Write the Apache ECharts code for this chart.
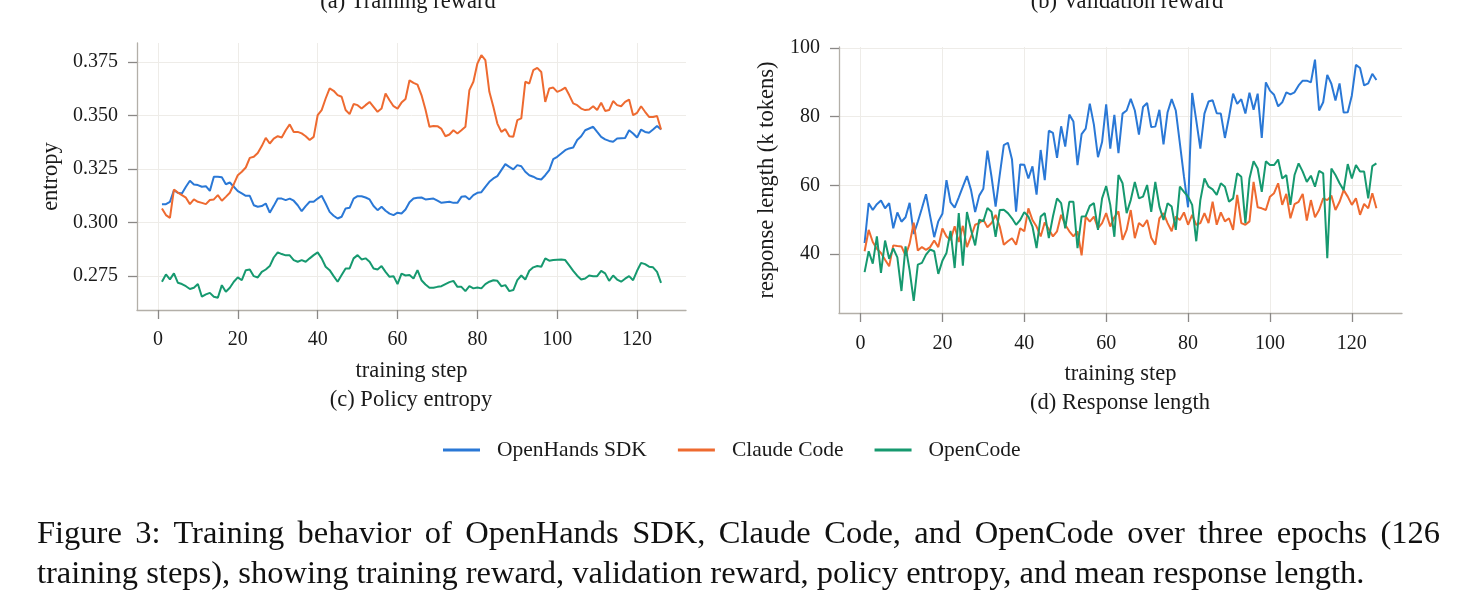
<!DOCTYPE html>
<html>
<head>
<meta charset="utf-8">
<script src="https://cdn.jsdelivr.net/npm/echarts@6/dist/echarts.min.js"></script>
<style>
  html, body { margin: 0; padding: 0; background: #fff; }
  #chart { width: 1476px; height: 606px; }
  .cap { position: absolute; left: 37px; width: 1403px; font-family: 'Liberation Serif', serif; font-size: 32.5px; color: #111; white-space: nowrap; }
  #cap1 { top: 514px; text-align: justify; text-align-last: justify; white-space: normal; }
  #cap2 { top: 554px; }
</style>
</head>
<body>
<div id="chart"></div>
<div class="cap" id="cap1">Figure 3: Training behavior of OpenHands SDK, Claude Code, and OpenCode over three epochs (126</div>
<div class="cap" id="cap2">training steps), showing training reward, validation reward, policy entropy, and mean response length.</div>
<script>
// training steps 1..126
const steps = Array.from({ length: 126 }, (_, i) => i + 1);

// (c) policy entropy
const entropyOpenHands = [
  0.3086, 0.3086, 0.3097, 0.3151, 0.3139, 0.3136, 0.3167, 0.3195, 0.3178, 0.3175,
  0.3167, 0.3170, 0.3148, 0.3214, 0.3214, 0.3211, 0.3179, 0.3187, 0.3167, 0.3147,
  0.3136, 0.3125, 0.3125, 0.3081, 0.3074, 0.3077, 0.3089, 0.3046, 0.3078, 0.3112,
  0.3112, 0.3105, 0.3112, 0.3102, 0.3081, 0.3053, 0.3077, 0.3097, 0.3097, 0.3112,
  0.3125, 0.3089, 0.3050, 0.3032, 0.3019, 0.3027, 0.3066, 0.3069, 0.3112, 0.3123,
  0.3123, 0.3117, 0.3108, 0.3077, 0.3058, 0.3074, 0.3055, 0.3042, 0.3035, 0.3046,
  0.3042, 0.3061, 0.3095, 0.3112, 0.3116, 0.3117, 0.3108, 0.3110, 0.3112, 0.3102,
  0.3092, 0.3095, 0.3097, 0.3092, 0.3092, 0.3120, 0.3123, 0.3108, 0.3128, 0.3139,
  0.3142, 0.3167, 0.3190, 0.3206, 0.3217, 0.3245, 0.3273, 0.3260, 0.3248, 0.3268,
  0.3263, 0.3237, 0.3221, 0.3214, 0.3204, 0.3201, 0.3221, 0.3245, 0.3296, 0.3307,
  0.3322, 0.3338, 0.3346, 0.3350, 0.3385, 0.3403, 0.3431, 0.3439, 0.3447, 0.3423,
  0.3400, 0.3388, 0.3381, 0.3377, 0.3392, 0.3394, 0.3395, 0.3431, 0.3416, 0.3397,
  0.3434, 0.3423, 0.3419, 0.3434, 0.3451, 0.3434
];
const entropyClaude = [
  0.3066, 0.3035, 0.3022, 0.3154, 0.3140, 0.3128, 0.3116, 0.3086, 0.3108, 0.3097,
  0.3092, 0.3086, 0.3105, 0.3108, 0.3128, 0.3102, 0.3120, 0.3139, 0.3179, 0.3221,
  0.3237, 0.3257, 0.3302, 0.3307, 0.3325, 0.3357, 0.3395, 0.3369, 0.3392, 0.3403,
  0.3397, 0.3431, 0.3458, 0.3423, 0.3423, 0.3416, 0.3403, 0.3385, 0.3400, 0.3501,
  0.3525, 0.3579, 0.3626, 0.3615, 0.3595, 0.3587, 0.3525, 0.3506, 0.3553, 0.3548,
  0.3532, 0.3548, 0.3563, 0.3540, 0.3517, 0.3532, 0.3602, 0.3571, 0.3543, 0.3532,
  0.3560, 0.3577, 0.3664, 0.3652, 0.3644, 0.3595, 0.3528, 0.3447, 0.3451, 0.3450,
  0.3437, 0.3403, 0.3411, 0.3431, 0.3416, 0.3431, 0.3447, 0.3618, 0.3657, 0.3742,
  0.3781, 0.3758, 0.3610, 0.3540, 0.3462, 0.3423, 0.3436, 0.3403, 0.3400, 0.3478,
  0.3486, 0.3657, 0.3649, 0.3711, 0.3722, 0.3703, 0.3563, 0.3626, 0.3630, 0.3610,
  0.3618, 0.3630, 0.3595, 0.3556, 0.3548, 0.3532, 0.3525, 0.3528, 0.3543, 0.3525,
  0.3559, 0.3521, 0.3525, 0.3567, 0.3548, 0.3543, 0.3563, 0.3574, 0.3501, 0.3512,
  0.3543, 0.3517, 0.3493, 0.3493, 0.3497, 0.3434
];
const entropyOpenCode = [
  0.2724, 0.2758, 0.2735, 0.2763, 0.2719, 0.2713, 0.2703, 0.2690, 0.2696, 0.2713,
  0.2654, 0.2665, 0.2672, 0.2654, 0.2649, 0.2708, 0.2677, 0.2696, 0.2724, 0.2744,
  0.2731, 0.2778, 0.2781, 0.2750, 0.2744, 0.2770, 0.2781, 0.2797, 0.2837, 0.2861,
  0.2853, 0.2847, 0.2847, 0.2825, 0.2817, 0.2825, 0.2817, 0.2833, 0.2848, 0.2861,
  0.2833, 0.2794, 0.2778, 0.2750, 0.2724, 0.2755, 0.2786, 0.2786, 0.2833, 0.2848,
  0.2828, 0.2833, 0.2817, 0.2786, 0.2781, 0.2797, 0.2770, 0.2747, 0.2750, 0.2713,
  0.2762, 0.2753, 0.2755, 0.2739, 0.2778, 0.2731, 0.2711, 0.2696, 0.2696, 0.2700,
  0.2703, 0.2713, 0.2722, 0.2728, 0.2700, 0.2700, 0.2680, 0.2703, 0.2693, 0.2697,
  0.2693, 0.2713, 0.2724, 0.2731, 0.2728, 0.2703, 0.2708, 0.2680, 0.2685, 0.2731,
  0.2753, 0.2734, 0.2775, 0.2791, 0.2797, 0.2794, 0.2833, 0.2822, 0.2825, 0.2827,
  0.2828, 0.2825, 0.2800, 0.2775, 0.2752, 0.2734, 0.2739, 0.2753, 0.2750, 0.2750,
  0.2775, 0.2763, 0.2728, 0.2753, 0.2734, 0.2724, 0.2738, 0.2750, 0.2731, 0.2775,
  0.2812, 0.2806, 0.2794, 0.2791, 0.2770, 0.2719
];

// (d) response length (k tokens)
const lengthOpenHands = [
  43.2, 54.8, 52.8, 54.5, 55.6, 53.3, 54.8, 47.5, 52.1, 49.4,
  50.7, 54.9, 45.8, 49.4, 53.3, 57.4, 51.1, 44.9, 49.5, 51.7,
  61.5, 55.0, 53.5, 56.5, 59.6, 62.7, 58.6, 52.2, 57.0, 59.0,
  70.1, 62.5, 53.8, 63.0, 71.7, 72.4, 67.5, 52.3, 66.1, 66.0,
  62.0, 65.5, 57.3, 70.3, 61.5, 75.9, 75.3, 68.0, 77.2, 71.3,
  80.6, 78.6, 65.9, 74.9, 76.5, 83.8, 77.7, 68.2, 72.6, 83.6,
  70.7, 80.5, 69.4, 80.9, 81.8, 85.2, 81.8, 74.8, 82.8, 84.0,
  77.0, 77.1, 82.0, 71.9, 81.3, 85.1, 81.8, 72.2, 62.5, 53.6,
  86.9, 78.9, 70.7, 80.9, 84.4, 84.8, 81.0, 80.9, 73.8, 79.9,
  86.7, 83.7, 85.1, 80.9, 87.0, 82.0, 86.7, 73.8, 90.0, 87.6,
  86.4, 83.0, 84.2, 87.1, 86.5, 87.1, 89.1, 90.5, 90.5, 90.0,
  96.6, 81.8, 84.2, 92.2, 89.6, 84.7, 89.7, 81.2, 81.3, 86.2,
  95.1, 94.2, 89.1, 89.7, 92.5, 90.7
];
const lengthClaude = [
  40.8, 47.0, 43.5, 41.5, 40.3, 38.3, 36.4, 42.5, 42.3, 42.2,
  39.5, 43.0, 49.1, 41.0, 42.0, 41.2, 42.0, 43.9, 42.0, 47.4,
  45.1, 44.1, 48.1, 43.5, 48.2, 42.0, 45.1, 48.5, 49.0, 50.0,
  47.8, 49.0, 51.4, 48.0, 42.7, 43.7, 44.6, 42.7, 47.5, 46.6,
  53.3, 49.9, 48.0, 45.1, 49.2, 47.2, 45.1, 46.6, 51.4, 48.5,
  46.6, 45.1, 46.6, 39.6, 50.9, 49.4, 50.9, 47.5, 49.0, 51.9,
  48.0, 50.7, 52.4, 44.1, 47.0, 52.8, 44.6, 49.0, 48.0, 49.9,
  44.7, 42.7, 50.4, 51.9, 49.0, 46.6, 50.9, 49.9, 52.1, 48.5,
  51.4, 48.5, 49.0, 51.9, 49.0, 55.2, 48.5, 52.1, 49.5, 50.4,
  47.0, 57.2, 49.0, 48.5, 49.5, 61.0, 53.6, 53.3, 52.8, 56.7,
  57.7, 60.6, 54.3, 57.5, 50.4, 54.5, 55.2, 57.5, 49.7, 55.7,
  50.7, 52.8, 56.2, 55.7, 57.0, 52.8, 55.2, 58.6, 56.7, 54.3,
  56.2, 51.4, 54.6, 53.3, 57.7, 53.3
];
const lengthOpenCode = [
  34.7, 40.8, 37.2, 45.1, 34.5, 43.9, 38.6, 41.6, 39.0, 29.2,
  42.2, 35.2, 26.3, 36.9, 37.4, 39.8, 41.3, 40.8, 34.2, 38.0,
  40.3, 46.7, 35.9, 51.9, 36.6, 52.2, 47.0, 42.5, 50.0, 49.5,
  53.4, 52.3, 45.0, 52.8, 52.9, 51.9, 50.4, 48.5, 49.9, 52.2,
  50.9, 48.0, 41.7, 50.9, 51.9, 44.6, 50.9, 56.2, 54.8, 47.5,
  55.2, 55.2, 41.7, 50.9, 51.0, 54.0, 54.8, 47.0, 56.2, 59.8,
  54.3, 45.0, 63.0, 60.6, 51.9, 55.7, 61.0, 56.2, 56.7, 60.1,
  52.3, 61.0, 53.8, 49.9, 54.8, 53.8, 47.0, 59.6, 58.1, 56.7,
  54.3, 43.7, 55.7, 62.0, 59.6, 58.8, 57.2, 60.6, 59.6, 55.2,
  56.2, 63.5, 62.5, 49.0, 62.0, 67.0, 64.9, 58.1, 67.0, 65.9,
  65.9, 67.5, 62.0, 63.0, 54.3, 63.0, 66.4, 64.0, 61.0, 62.8,
  59.6, 64.2, 63.5, 38.8, 64.9, 63.0, 60.6, 58.6, 66.2, 62.0,
  65.9, 64.0, 64.0, 56.2, 65.6, 66.4
];

const stepTicks = [0, 20, 40, 60, 80, 100, 120];
const entropyTicks = [0.275, 0.300, 0.325, 0.350, 0.375];
const lengthTicks = [40, 60, 80, 100];

const names = ['OpenHands SDK', 'Claude Code', 'OpenCode'];
const colors = ['#2a78d6', '#ee6a30', '#16996f'];

const FONT = 'Liberation Serif';
const TXT = '#1a1a1a';
const SPINE = '#b3afa8';
const TICK = '#8a8886';
const GRIDLINE = '#eeece8';

function pairs(vals) {
  return steps.map((s, i) => [s, vals[i]]);
}

function xAxisFor(grid, labelMargin) {
  return {
    type: 'value', gridIndex: grid,
    min: -5.25, max: 132.25,
    name: 'training step', nameLocation: 'middle', nameGap: 50,
    nameTextStyle: { fontFamily: FONT, fontSize: 22.5, color: TXT },
    axisLine: { show: true, onZero: false, lineStyle: { color: SPINE, width: 1.3 } },
    axisTick: { show: true, length: 9, customValues: stepTicks, lineStyle: { color: TICK, width: 1.3 } },
    axisLabel: { customValues: stepTicks, margin: labelMargin, fontFamily: FONT, fontSize: 20, color: TXT },
    splitLine: { show: true, lineStyle: { color: GRIDLINE, width: 1 } }
  };
}

function yAxisFor(grid, min, max, ticks, name, gap, fmt) {
  return {
    type: 'value', gridIndex: grid, min: min, max: max,
    name: name, nameLocation: 'middle', nameGap: gap,
    nameTextStyle: { fontFamily: FONT, fontSize: 22.5, color: TXT },
    axisLine: { show: true, onZero: false, lineStyle: { color: SPINE, width: 1.3 } },
    axisTick: { show: true, length: 9, customValues: ticks, lineStyle: { color: TICK, width: 1.3 } },
    axisLabel: { customValues: ticks, margin: 19, fontFamily: FONT, fontSize: 20, color: TXT, formatter: fmt },
    splitLine: { show: true, lineStyle: { color: GRIDLINE, width: 1 } }
  };
}

function lineSeries(name, color, vals, idx) {
  return {
    name: name, type: 'line', xAxisIndex: idx, yAxisIndex: idx,
    data: pairs(vals), showSymbol: false, symbol: 'none',
    lineStyle: { color: color, width: 2 }, itemStyle: { color: color },
    z: 3
  };
}

function label(text, x, y) {
  return {
    type: 'text',
    style: { text: text, x: x, y: y, align: 'center', verticalAlign: 'middle', fontFamily: FONT, fontSize: 22.5, fill: TXT }
  };
}

const chart = echarts.init(document.getElementById('chart'));

chart.setOption({
  animation: false,
  backgroundColor: '#ffffff',
  grid: [
    { left: 137, top: 43, width: 549, height: 267 },
    { left: 839, top: 47, width: 563, height: 266 }
  ],
  xAxis: [xAxisFor(0, 20), xAxisFor(1, 21)],
  yAxis: [
    yAxisFor(0, 0.2592, 0.3838, entropyTicks, 'entropy', 74, v => v.toFixed(3)),
    yAxisFor(1, 22.8, 100.3, lengthTicks, 'response length (k tokens)', 60, v => String(v))
  ],
  legend: {
    data: names,
    left: 438, top: 434,
    icon: 'rect', itemWidth: 37, itemHeight: 3, itemGap: 31,
    textStyle: { fontFamily: FONT, fontSize: 21.5, color: TXT, padding: [0, 0, 0, 12] }
  },
  graphic: [
    label('(a) Training reward', 408, 2),
    label('(b) Validation reward', 1127, 2),
    label('(c) Policy entropy', 411, 400),
    label('(d) Response length', 1120, 403)
  ],
  series: [
    lineSeries(names[0], colors[0], entropyOpenHands, 0),
    lineSeries(names[1], colors[1], entropyClaude, 0),
    lineSeries(names[2], colors[2], entropyOpenCode, 0),
    lineSeries(names[0], colors[0], lengthOpenHands, 1),
    lineSeries(names[1], colors[1], lengthClaude, 1),
    lineSeries(names[2], colors[2], lengthOpenCode, 1)
  ]
});
</script>
</body>
</html>
